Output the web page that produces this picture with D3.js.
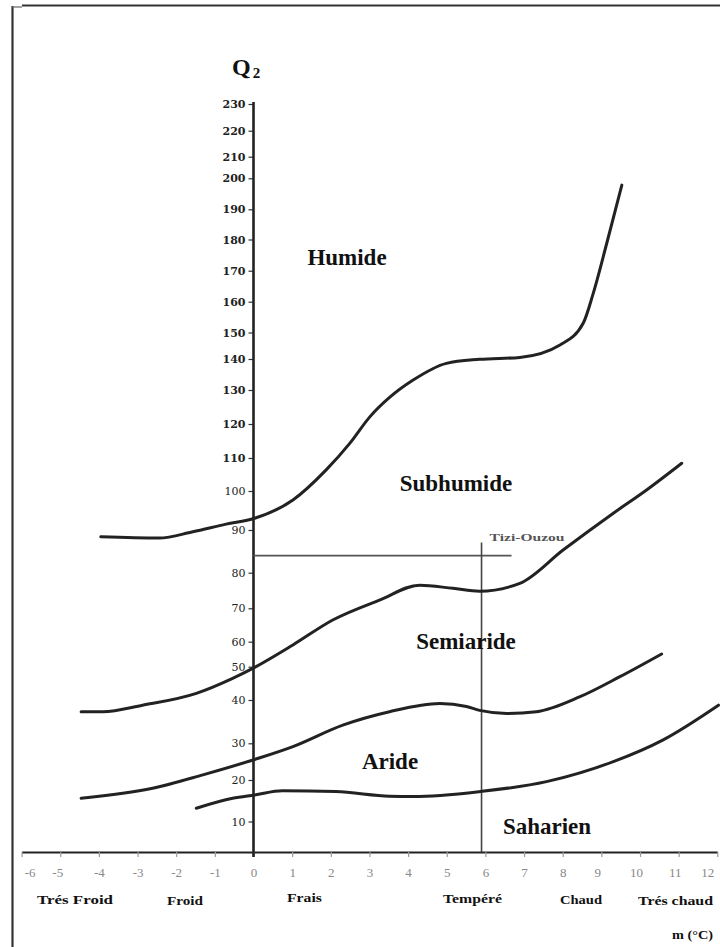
<!DOCTYPE html>
<html><head><meta charset="utf-8">
<script src="https://cdn.jsdelivr.net/npm/d3@7/dist/d3.min.js"></script>
<style>body{margin:0;background:#fff}svg{display:block}</style>
</head><body>
<script>
// ---- data ----
const yTicks = [10,20,30,40,50,60,70,80,90,100,110,120,130,140,150,160,170,180,190,200,210,220,230];
const xTicks = [-6,-5,-4,-3,-2,-1,0,1,2,3,4,5,6,7,8,9,10,11,12];
// limit Humide / Subhumide
const humM = [-3.95,-2.44,-1.57,-0.71,0.03,1.02,1.88,2.49,3.01,3.52,4.13,4.99,5.85,6.89,7.93,8.53,8.79,9.14,9.53];
const humQ = [88.4,88.1,89.6,91.5,93.0,97.7,106.4,114.3,122.1,127.8,133.2,138.6,139.9,140.6,145.3,153.0,162.7,178.8,197.8];
// limit Subhumide / Semiaride
const subM = [-4.46,-3.90,-2.87,-1.48,-0.54,0.03,1.02,2.05,3.26,4.30,5.16,5.85,6.89,8.01,9.31,10.17,11.08];
const subQ = [37.3,37.3,38.8,42.0,46.5,49.8,58.7,66.5,72.3,76.5,75.6,74.8,77.0,85.3,94.3,100.3,108.4];
// limit Semiaride / Aride
const semM = [-4.46,-2.61,-1.31,0.03,1.02,2.31,3.52,4.82,5.51,5.85,6.55,7.32,8.45,9.48,10.56];
const semQ = [15.6,18.0,21.4,25.6,29.1,34.2,37.3,39.2,38.5,37.6,36.9,37.3,41.0,47.0,55.1];
// limit Aride / Saharien
const arM = [-1.48,-0.54,0.03,0.75,2.13,3.52,4.13,5.85,7.58,9.31,10.60,12.03];
const arQ = [13.2,15.6,16.4,17.4,17.2,16.1,16.0,17.2,19.6,25.0,30.8,38.8];
// station
const stationName = "Tizi-Ouzou";
const stationM = 5.9;
const stationQ2 = 84;
// zone labels
const zoneNames = ["Humide","Subhumide","Semiaride","Aride","Saharien"];
const tempClasses = ["Trés Froid","Froid","Frais","Tempéré","Chaud","Trés chaud"];

// ---- layout ----
const W = 720, H = 947;
const svg = d3.select("body").append("svg").attr("width", W).attr("height", H);

const x = d3.scaleLinear().domain([-6, 12]).range([21.6, 717.3]);
// the printed ordinate is irregular: piecewise scale following the printed tick positions
const yDom = [0].concat(yTicks);
const yRng = [852,821.5,780,743.3,700,666.7,641.7,608.3,572.7,530,491,458,424,390,359,332.5,301.7,270.7,239.5,209.3,178.3,156.7,130.7,104];
const y = d3.scaleLinear().domain(yDom).range(yRng);

// frame
svg.append("line").attr("x1",12.5).attr("x2",12.5).attr("y1",6).attr("y2",H).attr("stroke","#333").attr("stroke-width",2.2);
svg.append("line").attr("x1",22).attr("x2",W).attr("y1",5.5).attr("y2",5.5).attr("stroke","#333").attr("stroke-width",2.2);
svg.append("line").attr("x1",12).attr("x2",22).attr("y1",7).attr("y2",7).attr("stroke","#666").attr("stroke-width",1.2);

// x axis
const gx = svg.append("g").attr("transform",`translate(0,${y(0)})`)
  .call(d3.axisBottom(x).tickValues(xTicks).tickSize(5).tickSizeOuter(0).tickPadding(11).tickFormat(d => String(d)));
gx.select(".domain").attr("stroke","#222").attr("stroke-width",2.2);
gx.selectAll(".tick line").attr("stroke","#999").attr("stroke-width",1.2);
gx.selectAll(".tick text").attr("font-family","'Liberation Serif', serif").attr("font-size",13).attr("fill","#888")
  .attr("dx", d => d === -6 ? 8 : d === -5 ? -3 : d === 12 ? -10 : d >= 9 ? -4 : 0);

// y axis
const gy = svg.append("g").attr("transform",`translate(${x(0)},0)`)
  .call(d3.axisLeft(y).tickValues(yTicks).tickSize(5).tickSizeOuter(0).tickPadding(3));
gy.select(".domain").remove();
gy.selectAll(".tick line").attr("stroke","#333").attr("stroke-width",1.2);
gy.selectAll(".tick text").attr("font-family","'DejaVu Serif', serif").attr("font-size",11)
  .attr("font-weight", d => d >= 110 ? "bold" : "normal").attr("fill","#222");
svg.append("line").attr("x1",x(0)).attr("x2",x(0)).attr("y1",y(230)-2).attr("y2",y(0)+5)
  .attr("stroke","#222").attr("stroke-width",2.6);

// Q2 label
const q = svg.append("text").attr("x",232).attr("y",75).attr("font-family","'Liberation Serif', serif")
  .attr("font-weight","bold").attr("fill","#111");
q.append("tspan").attr("font-size",24).text("Q");
q.append("tspan").attr("font-size",15).attr("dx",2).attr("dy",3).text("2");

// station cross
svg.append("line").attr("x1",x(0)).attr("x2",x(stationM)+30).attr("y1",y(stationQ2)).attr("y2",y(stationQ2))
  .attr("stroke","#555").attr("stroke-width",1.6);
svg.append("line").attr("x1",x(stationM)).attr("x2",x(stationM)).attr("y1",y(stationQ2)-13).attr("y2",y(0))
  .attr("stroke","#444").attr("stroke-width",1.6);
svg.append("text").attr("x",x(stationM)+8).attr("y",y(stationQ2)-15).attr("font-family","'Liberation Serif', serif")
  .attr("font-size",10).attr("font-weight","bold").attr("fill","#555")
  .attr("textLength",75).attr("lengthAdjust","spacingAndGlyphs").text(stationName);

// limit curves
const line = d3.line().x(d => x(d[0])).y(d => y(d[1])).curve(d3.curveMonotoneX);
[[humM,humQ],[subM,subQ],[semM,semQ],[arM,arQ]].forEach(([ms,qs]) => {
  svg.append("path").datum(ms.map((m,i)=>[m,qs[i]])).attr("d",line)
    .attr("fill","none").attr("stroke","#222").attr("stroke-width",3).attr("stroke-linecap","round");
});

// zone labels
const zonePos = [[347,265],[456,491],[466,649],[390,769],[547,834]];
svg.selectAll("text.zone").data(zoneNames).join("text").attr("class","zone")
  .attr("x",(d,i)=>zonePos[i][0]).attr("y",(d,i)=>zonePos[i][1]).attr("text-anchor","middle")
  .attr("font-family","'Liberation Serif', serif").attr("font-size",23).attr("font-weight","bold").attr("fill","#111")
  .text(d=>d);

// temperature classes
const tcPos = [[37,904,76],[167,905,36],[287,902,35],[443,903,59],[560,904,42],[638,905,75]];
svg.selectAll("text.tc").data(tempClasses).join("text").attr("class","tc")
  .attr("x",(d,i)=>tcPos[i][0]).attr("y",(d,i)=>tcPos[i][1])
  .attr("textLength",(d,i)=>tcPos[i][2]).attr("lengthAdjust","spacingAndGlyphs")
  .attr("font-family","'Liberation Serif', serif").attr("font-size",13).attr("font-weight","bold").attr("fill","#111")
  .text(d=>d);
svg.append("text").attr("x",672).attr("y",939).attr("textLength",41).attr("lengthAdjust","spacingAndGlyphs")
  .attr("font-family","'Liberation Serif', serif").attr("font-size",12).attr("font-weight","bold").attr("fill","#111")
  .text("m (°C)");
</script>
</body></html>
